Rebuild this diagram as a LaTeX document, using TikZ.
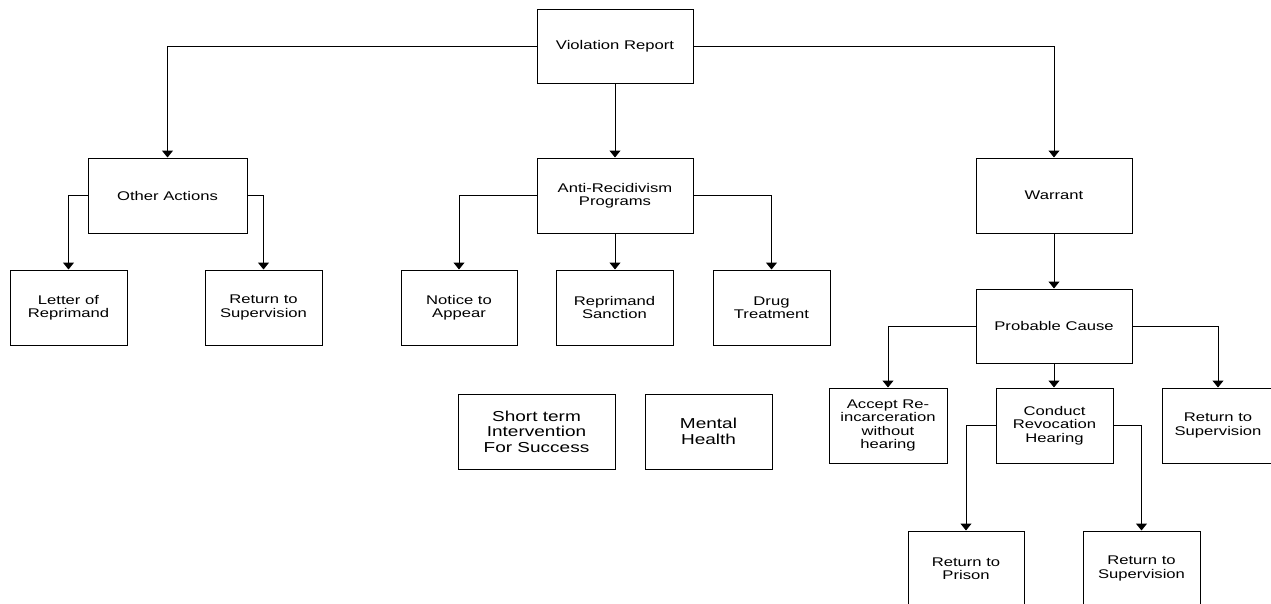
\documentclass[tikz,border=0pt]{standalone}
\usepackage{fontspec}
\setmainfont[FakeStretch=1.32]{Liberation Sans}
\usetikzlibrary{arrows.meta}

\begin{document}
\begin{tikzpicture}[
    x=1pt,y=-1pt,
    box/.style={draw,line width=1pt,minimum width=156pt,minimum height=75pt,
      inner sep=0pt,align=center,font=\fontsize{12.6}{13.5}\selectfont},
    leaf/.style={box,minimum width=117pt},
    bigbox/.style={box,font=\fontsize{14.4}{15.5}\selectfont},
    link/.style={line width=1pt,-{Triangle[length=7pt,width=11pt]}}
  ]
  \clip (0,0) rectangle (1271,603);

  % top
  \node[box,minimum height=74pt] (report) at (615,46) {Violation Report};

  % second row
  \node[box,minimum width=159pt] (other) at (167.5,195.5) {Other Actions};
  \node[box] (anti) at (615,195.5) {Anti-Recidivism\\Programs};
  \node[box] (warrant) at (1054,195.5) {Warrant};

  % third row
  \node[leaf] (letter) at (68.5,307.5) {Letter of\\Reprimand};
  \node[leaf] (supA) at (263.5,307.5) {Return to\\Supervision};
  \node[leaf,minimum width=116pt] (notice) at (459,307.5) {Notice to\\Appear};
  \node[leaf] (sanction) at (614.5,307.5) {Reprimand\\Sanction};
  \node[leaf] (drug) at (771.5,307.5) {Drug\\Treatment};
  \node[box,minimum height=74pt] (cause) at (1054,326) {Probable Cause};

  % unlinked programs
  \node[bigbox,minimum width=157pt] (stifs) at (536.5,431.5) {Short term\\Intervention\\For Success};
  \node[bigbox,minimum width=127pt] (mental) at (708.5,431.5) {Mental\\Health};

  % revocation
  \node[leaf,minimum width=118pt] (accept) at (888,425.5) {Accept Re-\\incarceration\\without\\hearing};
  \node[leaf] (hearing) at (1054.5,425.5) {Conduct\\Revocation\\Hearing};
  \node[leaf,minimum width=112pt] (supB) at (1218,425.5) {Return to\\Supervision};
  \node[leaf,minimum width=116pt] (prison) at (966,568.5) {Return to\\Prison};
  \node[leaf] (supC) at (1141.5,568.5) {Return to\\Supervision};

  % connectors
  \draw[link] (report.west) -| (other.north);
  \draw[link] (report.south) -- (anti.north);
  \draw[link] (report.east) -| (warrant.north);
  \draw[link] (other.west) -| (letter.north);
  \draw[link] (other.east) -| (supA.north);
  \draw[link] (anti.west) -| (notice.north);
  \draw[link] (anti.south) -- (anti.south |- sanction.north);
  \draw[link] (anti.east) -| (drug.north);
  \draw[link] (warrant.south) -- (cause.north);
  \draw[link] (cause.west) -| (accept.north);
  \draw[link] (cause.south) -- (cause.south |- hearing.north);
  \draw[link] (cause.east) -| (supB.north);
  \draw[link] (hearing.west) -| (prison.north);
  \draw[link] (hearing.east) -| (supC.north);
\end{tikzpicture}
\end{document}
